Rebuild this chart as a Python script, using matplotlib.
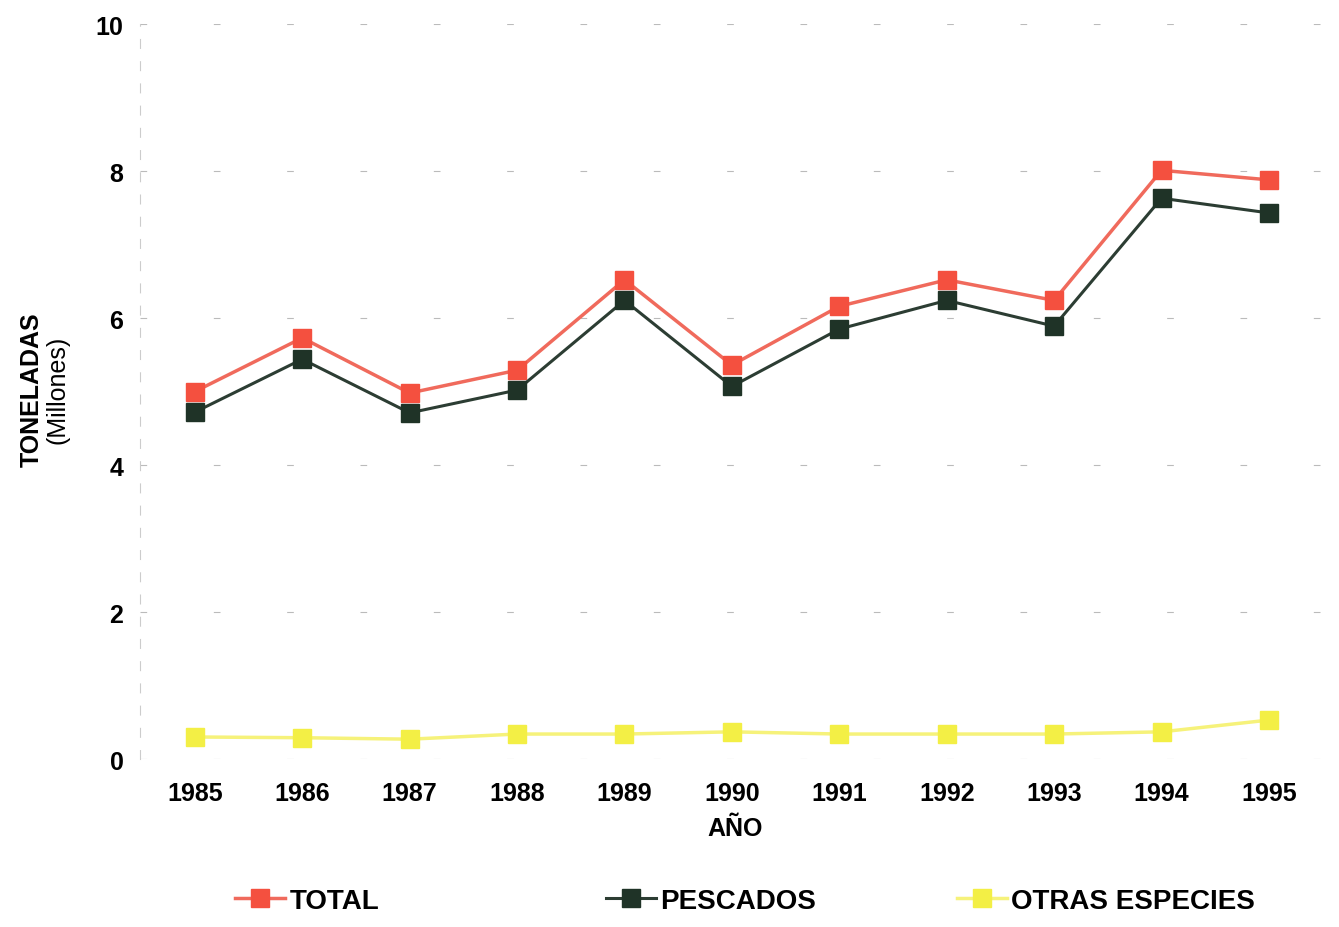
import matplotlib
matplotlib.use("Agg")
import matplotlib.pyplot as plt

years = [1985, 1986, 1987, 1988, 1989, 1990, 1991, 1992, 1993, 1994, 1995]
total = [5.00, 5.73, 4.98, 5.29, 6.52, 5.36, 6.16, 6.52, 6.24, 8.01, 7.88]
pescados = [4.72, 5.44, 4.71, 5.02, 6.24, 5.07, 5.85, 6.24, 5.89, 7.63, 7.43]
otras = [0.30, 0.29, 0.27, 0.34, 0.34, 0.37, 0.34, 0.34, 0.34, 0.37, 0.53]
yticks = [0, 2, 4, 6, 8, 10]

plt.rcParams['font.family'] = ['Liberation Sans', 'DejaVu Sans']

fig = plt.figure(figsize=(13.39, 9.28), dpi=100)
ax = fig.add_axes([0.1046, 0.181, 0.888, 0.792])

l1, = ax.plot(years, total, color='#f06a5c', lw=2.5, marker='s', ms=13,
              mfc='#f4503f', mec='#f4503f', label='TOTAL', zorder=3)
l2, = ax.plot(years, pescados, color='#2c3d33', lw=2.2, marker='s', ms=13,
              mfc='#1f3327', mec='#1f3327', label='PESCADOS', zorder=3)
l3, = ax.plot(years, otras, color='#f6f27a', lw=2.5, marker='s', ms=13,
              mfc='#f3ef45', mec='#f3ef45', label='OTRAS ESPECIES', zorder=3)

ax.set_xlim(1984.49, 1995.56)
ax.set_ylim(0, 10)
ax.set_xticks(years)
ax.set_yticks(yticks)
ax.tick_params(axis='both', length=0, labelsize=18)
ax.tick_params(axis='x', pad=16)
ax.tick_params(axis='y', pad=12)
for lab in ax.get_xticklabels() + ax.get_yticklabels():
    lab.set_fontweight('bold')
ax.yaxis.grid(True, color='#bbbbbb', lw=0.8, linestyle=(0, (6, 60)))
for s in ['top', 'right', 'bottom']:
    ax.spines[s].set_visible(False)
ax.spines['left'].set_color('#cccccc')
ax.spines['left'].set_linestyle((0, (8, 12)))
ax.spines['left'].set_linewidth(0.8)

ax.set_xlabel('AÑO', fontsize=18, fontweight='bold', labelpad=8)
fig.text(0.024, 0.58, 'TONELADAS', rotation=90, fontsize=18, fontweight='bold',
         ha='center', va='center')
fig.text(0.043, 0.58, '(Millones)', rotation=90, fontsize=18,
         ha='center', va='center')

for h, x in [(l1, 0.157), (l2, 0.434), (l3, 0.696)]:
    fig.legend(handles=[h], loc='center left', bbox_to_anchor=(x, 0.028),
               frameon=False, handlelength=1.8, handletextpad=0.15,
               prop={'weight': 'bold', 'size': 20})

fig.savefig('out.png', dpi=100)
